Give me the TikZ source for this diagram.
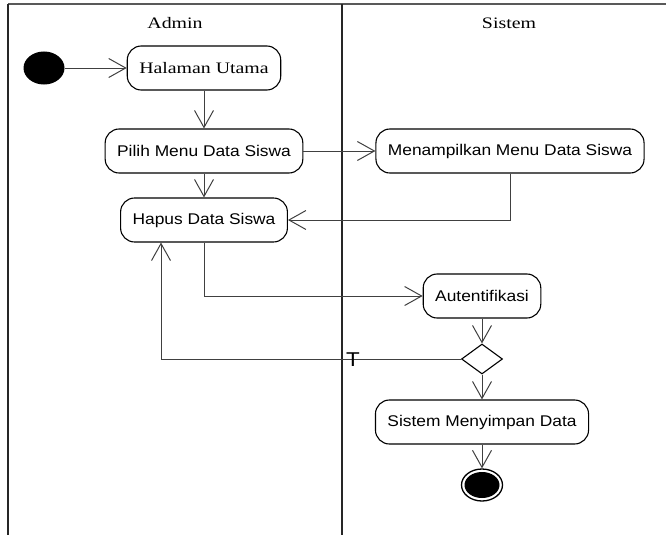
\documentclass[tikz,border=0pt]{standalone}
\usepackage{fontspec}
\newfontfamily\umlsans[FakeStretch=1.12]{Liberation Sans}
\newfontfamily\umlserif[FakeStretch=1.24]{Liberation Serif}
\usetikzlibrary{arrows.meta}
\usetikzlibrary{shapes.geometric}

\tikzset{
	lane/.style={line width=1.5pt, black!85},
	action/.style={draw, line width=1.1pt, rectangle, rounded corners=14pt, minimum height=44pt, inner xsep=12pt, font=\umlsans\fontsize{15.5}{18}\selectfont},
	flow/.style={draw=black!75, line width=1pt, -{Straight Barb[length=17pt,width=19pt]}},
}

\begin{document}
\begin{tikzpicture}[x=1pt, y=-1pt]
	\useasboundingbox (0,0) rectangle (666,535);
	% swimlanes
	\draw [lane, black!65] (8,4) -- (666,4);
	\draw [lane] (8,4) -- (8,535);
	\draw [lane] (342,4) -- (342,535);
	\node [font=\umlserif\fontsize{16}{18}\selectfont] (admin) at (175,23) {Admin};
	\node [font=\umlserif\fontsize{16}{18}\selectfont] (sistem) at (509,23) {Sistem};

	\node [ellipse, fill, minimum width=41pt, minimum height=33pt, inner sep=0] (start) at (44,68) {};
	\node [action, font=\umlserif\fontsize{16}{18}\selectfont] (hal) at (204,68) {Halaman Utama};
	\node [action] (pilih) at (204,151) {Pilih Menu Data Siswa};
	\node [action] (menu) at (510,151) {Menampilkan Menu Data Siswa};
	\node [action] (hapus) at (204,220) {Hapus Data Siswa};
	\node [action] (auth) at (482,296) {Autentifikasi};
	\node [diamond, draw, line width=1.1pt, minimum width=41pt, minimum height=30pt, inner sep=0] (cek) at (482,359) {};
	\node [action] (simpan) at (482,422) {Sistem Menyimpan Data};
	\node [ellipse, draw, line width=1.3pt, minimum width=41pt, minimum height=32pt, inner sep=0] (stop) at (482,485) {};
	\node [ellipse, fill, minimum width=35pt, minimum height=26pt, inner sep=0] (stopdot) at (stop) {};

	\draw [flow] (start) -- (hal);
	\draw [flow] (hal) -- (pilih);
	\draw [flow] (pilih) -- (menu);
	\draw [flow] (pilih) -- (hapus);
	\draw [flow] (menu) |- (hapus);
	\draw [flow] (hapus) |- (auth);
	\draw [flow] (auth) -- (cek);
	\draw [flow] (cek) -| ([xshift=-43pt]hapus.south);
	\node [font=\umlsans\fontsize{20}{22}\selectfont, inner sep=0] (guard) at (353,360) {T};
	\draw [flow] (cek) -- (simpan);
	\draw [flow] (simpan) -- (stop);
\end{tikzpicture}
\end{document}
